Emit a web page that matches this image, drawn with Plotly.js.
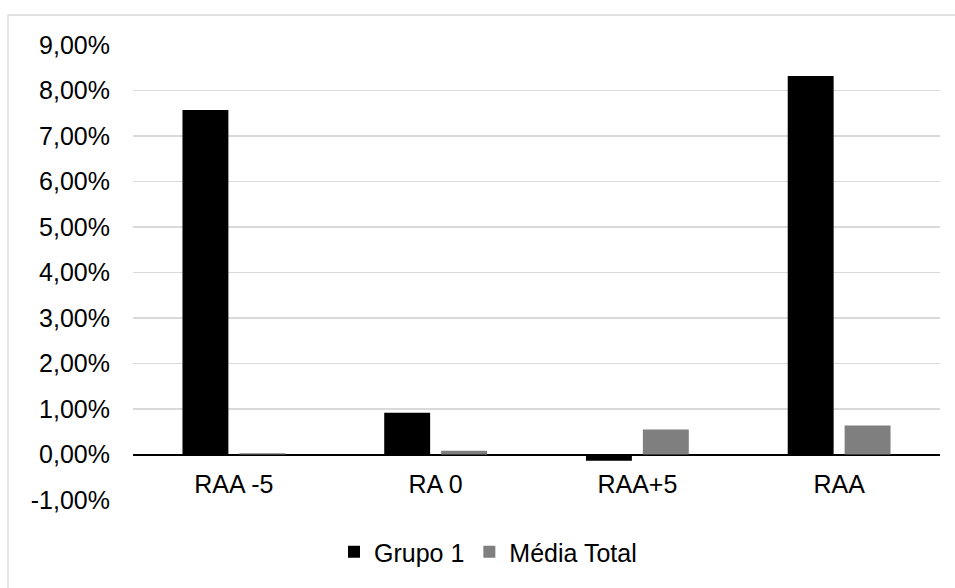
<!DOCTYPE html>
<html>
<head>
<meta charset="utf-8">
<script src="https://cdn.plot.ly/plotly-3.0.1.min.js"></script>
<style>
  html, body { margin: 0; padding: 0; background: #fff; }
  #chart { width: 955px; height: 588px; }
</style>
</head>
<body>
<div id="chart"></div>
<script>
// Categories and series (percent values)
const categories = ['RAA -5', 'RA 0', 'RAA+5', 'RAA'];
const grupo1 = [7.57, 0.92, -0.14, 8.32];
const mediaTotal = [0.03, 0.08, 0.55, 0.64];
const tickValues = [-1, 0, 1, 2, 3, 4, 5, 6, 7, 8, 9];
const tickLabels = ['-1,00%', '0,00%', '1,00%', '2,00%', '3,00%', '4,00%', '5,00%', '6,00%', '7,00%', '8,00%', '9,00%'];

const W = 955, H = 588;
const margin = { l: 133, r: 15, t: 45, b: 88 };
const plotW = W - margin.l - margin.r;
const plotH = H - margin.t - margin.b;
const px2x = px => (px - margin.l) / plotW;
const px2y = py => (H - margin.b - py) / plotH;

const font = { family: 'Liberation Sans, Arial, sans-serif', size: 25, color: '#000' };

const traces = [
  {
    type: 'bar', name: 'Grupo 1', x: categories, y: grupo1,
    marker: { color: '#000000', line: { width: 0 } },
    hoverinfo: 'skip'
  },
  {
    type: 'bar', name: 'Média Total', x: categories, y: mediaTotal,
    marker: { color: '#7f7f7f', line: { width: 0 } },
    hoverinfo: 'skip'
  }
];

const layout = {
  width: W, height: H,
  margin: margin,
  paper_bgcolor: '#ffffff',
  plot_bgcolor: '#ffffff',
  font: font,
  barmode: 'group',
  bargap: 0.436,
  bargroupgap: 0.193,
  showlegend: true,
  legend: {
    orientation: 'h',
    x: px2x(488), xanchor: 'center',
    y: px2y(552), yanchor: 'middle',
    font: font,
    itemwidth: 30,
    traceorder: 'normal'
  },
  xaxis: {
    type: 'category',
    anchor: 'free',
    position: 0.1,
    showgrid: false,
    showline: false,
    ticks: '',
    zeroline: false,
    tickfont: font,
    ticklabelstandoff: 12,
    fixedrange: true
  },
  yaxis: {
    range: [-1, 9],
    tickvals: tickValues,
    ticktext: tickLabels,
    showgrid: true,
    gridcolor: '#d9d9d9',
    gridwidth: 1.3,
    zeroline: true,
    zerolinecolor: '#000000',
    zerolinewidth: 2,
    showline: false,
    ticks: '',
    tickfont: font,
    ticklabelstandoff: 22,
    fixedrange: true
  },
  shapes: [
    {
      // outer chart frame, open at the right and bottom edges
      type: 'rect', xref: 'paper', yref: 'paper',
      x0: px2x(8), x1: px2x(975), y0: px2y(620), y1: px2y(15),
      line: { color: '#d9d9d9', width: 1.3 },
      fillcolor: 'rgba(0,0,0,0)',
      layer: 'below'
    }
  ]
};

Plotly.newPlot('chart', traces, layout, { staticPlot: true, displayModeBar: false });
</script>
</body>
</html>
